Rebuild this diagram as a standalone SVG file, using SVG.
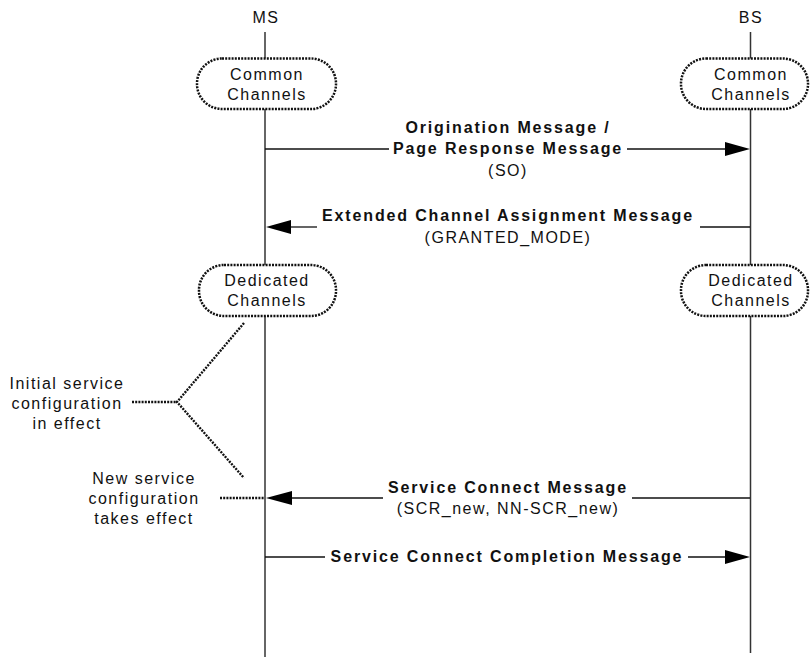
<svg xmlns="http://www.w3.org/2000/svg" width="812" height="658" viewBox="0 0 812 658">
  <defs>
    <style>
      .txt { font-family: "Liberation Sans", Arial, sans-serif; font-size: 16px; fill: #111; letter-spacing: 1.5px; }
      .msg { font-family: "Liberation Sans", Arial, sans-serif; font-size: 16px; font-weight: bold; fill: #111; letter-spacing: 1.85px; }
      .mid { text-anchor: middle; }
      .life { stroke: #333; stroke-width: 1.5; fill: none; }
      .line { stroke: #111; stroke-width: 1.3; fill: none; }
      .pill { fill: #fff; stroke: #111; stroke-width: 2.5; stroke-dasharray: 2 1.2; }
      .dot { stroke: #111; stroke-width: 2.4; stroke-dasharray: 2 1.2; fill: none; }
      .head { fill: #000; }
    </style>
  </defs>
  <rect width="812" height="658" fill="#fff"/>

  <!-- lifelines and messages -->
  <g id="connectors">
    <line class="life" x1="265" y1="32" x2="265" y2="657"/>
    <line class="life" x1="750.5" y1="32" x2="750.5" y2="653"/>

    <!-- MS -> BS: Origination / Page Response -->
    <line class="line" x1="265" y1="149" x2="389" y2="149"/>
    <line class="line" x1="627" y1="149" x2="726" y2="149"/>
    <polygon class="head" points="750,149 725,142 725,156"/>

    <!-- BS -> MS: Extended Channel Assignment -->
    <line class="line" x1="289" y1="227" x2="317" y2="227"/>
    <line class="line" x1="700" y1="227" x2="750" y2="227"/>
    <polygon class="head" points="266,227 291,220 291,234"/>

    <!-- BS -> MS: Service Connect -->
    <line class="line" x1="290" y1="498" x2="383" y2="498"/>
    <line class="line" x1="632" y1="498" x2="750" y2="498"/>
    <polygon class="head" points="266,498 292,491 292,505"/>

    <!-- MS -> BS: Service Connect Completion -->
    <line class="line" x1="265" y1="557" x2="325" y2="557"/>
    <line class="line" x1="688" y1="557" x2="726" y2="557"/>
    <polygon class="head" points="750,557 725,550 725,564"/>
  </g>

  <!-- message labels -->
  <g id="labels">
    <text class="msg mid" x="508" y="133">Origination Message /</text>
    <text class="msg mid" x="508" y="154">Page Response Message</text>
    <text class="txt mid" x="508" y="176">(SO)</text>

    <text class="msg mid" x="508" y="221">Extended Channel Assignment Message</text>
    <text class="txt mid" x="508" y="243">(GRANTED_MODE)</text>

    <text class="msg mid" x="508" y="493">Service Connect Message</text>
    <text class="txt mid" x="508" y="514">(SCR_new, NN-SCR_new)</text>

    <text class="msg mid" x="507" y="562">Service Connect Completion Message</text>
  </g>

  <g id="ms-header">
    <text class="txt mid" x="266" y="23">MS</text>
  </g>
  <g id="bs-header">
    <text class="txt mid" x="751" y="23">BS</text>
  </g>

  <g id="ms-common">
    <rect class="pill" x="197" y="58.5" width="139" height="50.5" rx="25" ry="25"/>
    <text class="txt mid" x="267" y="80">Common</text>
    <text class="txt mid" x="267" y="100">Channels</text>
  </g>
  <g id="bs-common">
    <rect class="pill" x="681" y="58.5" width="127" height="50.5" rx="25" ry="25"/>
    <text class="txt mid" x="751" y="80">Common</text>
    <text class="txt mid" x="751" y="100">Channels</text>
  </g>

  <g id="ms-dedicated">
    <rect class="pill" x="199" y="265" width="137" height="51" rx="25" ry="25"/>
    <text class="txt mid" x="267" y="286">Dedicated</text>
    <text class="txt mid" x="267" y="306">Channels</text>
  </g>
  <g id="bs-dedicated">
    <rect class="pill" x="681" y="265" width="127" height="51" rx="25" ry="25"/>
    <text class="txt mid" x="751" y="286">Dedicated</text>
    <text class="txt mid" x="751" y="306">Channels</text>
  </g>

  <g id="initial-config">
    <text class="txt mid" x="67" y="389">Initial service</text>
    <text class="txt mid" x="67" y="409">configuration</text>
    <text class="txt mid" x="67" y="429">in effect</text>
    <polyline class="dot" points="132,402 177,402"/>
    <polyline class="dot" points="244,323 177,402 244,478"/>
  </g>

  <g id="new-config">
    <text class="txt mid" x="144" y="484">New service</text>
    <text class="txt mid" x="144" y="504">configuration</text>
    <text class="txt mid" x="144" y="524">takes effect</text>
    <polyline class="dot" points="220,498 264,498"/>
  </g>
</svg>
